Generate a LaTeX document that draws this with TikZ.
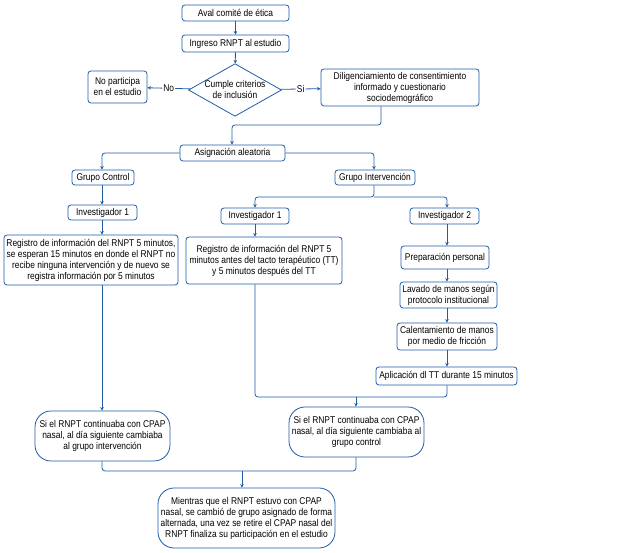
\documentclass[tikz,border=0pt]{standalone}
\usepackage{fontspec}
\setmainfont[FakeStretch=0.86]{Liberation Sans}
\usetikzlibrary{shapes.geometric,arrows.meta}
\definecolor{fblue}{HTML}{1F5CA8}
\begin{document}
\begin{tikzpicture}[x=1pt,y=-1pt,
  font=\fontsize{9.8}{11}\selectfont,
  box/.style={draw=fblue,line width=0.8pt,rounded corners=3pt,align=center,inner sep=1pt,fill=white},
  bubble/.style={draw=fblue,line width=0.8pt,rounded corners=16pt,align=center,inner sep=1pt},
  dia/.style={draw=fblue,line width=0.8pt,diamond,aspect=1.77,align=center,inner sep=0pt},
  conn/.style={draw=fblue,line width=0.8pt,rounded corners=3pt},
  arr/.style={conn,-{Stealth[length=3.5pt,width=3.5pt]}},
  lbl/.style={fill=white,inner sep=1pt}]
\useasboundingbox (0,0) rectangle (625,553);
\node[box,minimum width=107pt,minimum height=16pt] (aval) at (235.5,13) {Aval comité de ética};
\node[box,minimum width=107pt,minimum height=17pt] (ingreso) at (235.5,43.5) {Ingreso RNPT al estudio};
\node[dia,minimum width=92pt,minimum height=52pt] (crit) at (235,90) {Cumple criterios\\de inclusión};
\node[box,minimum width=59pt,minimum height=32pt] (nopart) at (117.5,87) {No participa\\en el estudio};
\node[box,minimum width=158pt,minimum height=37pt] (dilig) at (400,87.5) {Diligenciamiento de consentimiento\\informado y cuestionario\\sociodemográfico};
\node[box,minimum width=105pt,minimum height=16pt] (asig) at (232.5,153) {Asignación aleatoria};
\node[box,minimum width=62pt,minimum height=15pt] (gc) at (103,177.5) {Grupo Control};
\node[box,minimum width=80pt,minimum height=15pt] (gi) at (375,177.5) {Grupo Intervención};
\node[box,minimum width=69pt,minimum height=15pt] (inva) at (102.5,212.5) {Investigador 1};
\node[box,minimum width=68pt,minimum height=16pt] (invb) at (255,216) {Investigador 1};
\node[box,minimum width=69pt,minimum height=16pt] (invc) at (444.5,216) {Investigador 2};
\node[box,minimum width=174pt,minimum height=50pt] (rega) at (91,260) {Registro de información del RNPT 5 minutos,\\se esperan 15 minutos en donde el RNPT no\\recibe ninguna intervención y de nuevo se\\registra información por 5 minutos};
\node[box,minimum width=156pt,minimum height=47pt] (regb) at (264,260.5) {Registro de información del RNPT 5\\minutos antes del tacto terapéutico (TT)\\y 5 minutos después del TT};
\node[box,minimum width=88pt,minimum height=23pt] (prep) at (445,257.5) {Preparación personal};
\node[box,minimum width=97pt,minimum height=26pt] (lav) at (448.5,295) {Lavado de manos según\\protocolo institucional};
\node[box,minimum width=100pt,minimum height=27pt] (cal) at (447,336.5) {Calentamiento de manos\\por medio de fricción};
\node[box,minimum width=141pt,minimum height=18pt] (apl) at (446.5,376) {Aplicación dl TT durante 15 minutos};
\node[bubble,minimum width=135pt,minimum height=50pt] (sia) at (102.5,436) {Si el RNPT continuaba con CPAP\\nasal, al día siguiente cambiaba\\al grupo intervención};
\node[bubble,minimum width=135pt,minimum height=50pt] (sib) at (356.5,432) {Si el RNPT continuaba con CPAP\\nasal, al día siguiente cambiaba al\\grupo control};
\node[bubble,minimum width=177pt,minimum height=60pt] (mien) at (246.5,518) {Mientras que el RNPT estuvo con CPAP\\nasal, se cambió de grupo asignado de forma\\alternada, una vez se retire el CPAP nasal del\\RNPT finaliza su participación en el estudio};
\coordinate (j1) at (232,125);
\coordinate (j2) at (374,197);
\coordinate (j3) at (356,397);
\coordinate (j4) at (242,471);
% connectors
\draw[arr] (aval) -- (ingreso);
\draw[arr] (ingreso) -- (crit);
\draw[arr] (crit) -- node[lbl]{No} (nopart);
\draw[arr] (crit) -- node[lbl]{Si} (dilig);
\draw[arr] (dilig.south -| 381,0) |- (j1) -- (asig.north -| j1);
\draw[arr] (asig.west) -| (gc.north -| 102,0);
\draw[arr] (asig.east) -| (gi.north -| 374,0);
\draw[arr] (gc.south -| 102,0) -- (inva.north -| 102,0);
\draw[arr] (gi.south -| j2) -- (j2) -| (invb.north);
\draw[arr] (j2) -| (invc.north -| 447,0);
\draw[arr] (inva.south -| 102,0) -- (rega.north -| 102,0);
\draw[arr] (invb.south) -- (regb.north -| invb.south);
\draw[arr] (invc.south -| 447,0) -- (prep.north -| 447,0);
\draw[arr] (prep.south -| 447,0) -- (lav.north -| 447,0);
\draw[arr] (lav.south -| 447,0) -- (cal.north -| 447,0);
\draw[arr] (cal.south -| 447,0) -- (apl.north -| 447,0);
\draw[conn] (regb.south -| 255,0) |- (j3);
\draw[conn] (apl.south -| 447,0) |- (j3);
\draw[arr] (j3) -- (sib.north -| j3);
\draw[arr] (rega.south -| 102,0) -- (sia.north -| 102,0);
\draw[conn] (sia.south -| 102,0) |- (j4);
\draw[conn] (sib.south -| j3) |- (j4);
\draw[arr] (j4) -- (mien.north -| j4);
\end{tikzpicture}
\end{document}
